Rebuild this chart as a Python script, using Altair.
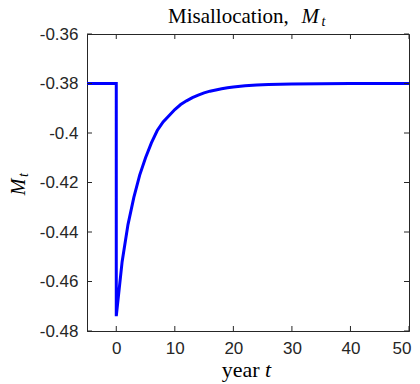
import altair as alt
import pandas as pd

# ---- data ----
pre_t = [-5, -4, -3, -2, -1, 0]
pre_v = [-0.38, -0.38, -0.38, -0.38, -0.38, -0.38]
post_t = [0, 1, 2, 3, 4, 5, 6, 7, 8, 9, 10, 11, 12, 13, 14, 15, 16, 17, 18, 19, 20,
          22, 24, 26, 28, 30, 35, 40, 45, 50]
post_v = [-0.474, -0.452, -0.437, -0.426, -0.417, -0.410, -0.404, -0.399, -0.3955, -0.393,
          -0.3905, -0.3885, -0.387, -0.3857, -0.3847, -0.3838, -0.3831, -0.3826, -0.3821,
          -0.3817, -0.3814, -0.3809, -0.3806, -0.3804, -0.3803, -0.3802, -0.3801, -0.3800,
          -0.3800, -0.3800]
x_ticks = [0, 10, 20, 30, 40, 50]
y_ticks = [-0.48, -0.46, -0.44, -0.42, -0.40, -0.38, -0.36]

W, H = 322, 297
DARK = "#262626"

ts = pre_t + post_t
vs = pre_v + post_v
line_df = pd.DataFrame({"t": ts, "v": vs, "o": list(range(len(ts)))})
xt_df = pd.DataFrame({"t": x_ticks})
yt_df = pd.DataFrame({"v": y_ticks})

xscale = alt.Scale(domain=[-5, 50], nice=False, zero=False)
yscale = alt.Scale(domain=[-0.48, -0.36], nice=False, zero=False)

x_axis = alt.Axis(values=x_ticks, ticks=False, grid=False, labelPadding=9,
                  labelFont="Liberation Sans", labelFontSize=17, labelColor=DARK,
                  domainColor=DARK, title=None, labelFlush=False,
                  labelAlign={"condition": {"test": "datum.value == 50", "value": "right"},
                              "value": "center"},
                  labelOffset={"condition": {"test": "datum.value == 50", "value": 2},
                               "value": 0})
y_axis = alt.Axis(values=y_ticks, ticks=False, grid=False, labelPadding=9,
                  labelFont="Liberation Sans", labelFontSize=17, labelColor=DARK,
                  domainColor=DARK, title=None, labelFlush=False,
                  labelExpr="datum.value < 0 ? '-' + format(-datum.value, '.2~f') : format(datum.value, '.2~f')")

line = alt.Chart(line_df).mark_line(color="#0000FF", strokeWidth=3, clip=True).encode(
    x=alt.X("t:Q", scale=xscale, axis=x_axis),
    y=alt.Y("v:Q", scale=yscale, axis=y_axis),
    order="o:Q",
)

tick_len = 5
bt = alt.Chart(xt_df).mark_rule(color=DARK, strokeWidth=1).encode(
    x=alt.X("t:Q", scale=xscale), y=alt.value(H), y2=alt.value(H - tick_len))
tt = alt.Chart(xt_df).mark_rule(color=DARK, strokeWidth=1).encode(
    x=alt.X("t:Q", scale=xscale), y=alt.value(0), y2=alt.value(tick_len))
lt = alt.Chart(yt_df).mark_rule(color=DARK, strokeWidth=1).encode(
    y=alt.Y("v:Q", scale=yscale), x=alt.value(0), x2=alt.value(tick_len))
rt = alt.Chart(yt_df).mark_rule(color=DARK, strokeWidth=1).encode(
    y=alt.Y("v:Q", scale=yscale), x=alt.value(W), x2=alt.value(W - tick_len))

def txt(s, x, y, size, italic=False, angle=0, align="left", color="#000000"):
    kw = dict(text=s, font="Liberation Serif", fontSize=size, align=align,
              baseline="alphabetic", color=color, angle=angle)
    if italic:
        kw["fontStyle"] = "italic"
    return alt.Chart(pd.DataFrame({"a": [0]})).mark_text(**kw).encode(
        x=alt.value(x), y=alt.value(y))

labels = [
    txt("Misallocation,", 81, -10.7, 21),
    txt("M", 214.5, -10.7, 21, italic=True),
    txt("t", 234.5, -8, 14, italic=True),
    txt("year", 134.7, 343, 22),
    txt("t", 178, 343, 22, italic=True),
    txt("M", -62, 153, 20, italic=True, angle=270, align="center"),
    txt("t", -59, 143, 14, italic=True, angle=270, align="left"),
]

chart = alt.layer(line, bt, tt, lt, rt, *labels).properties(
    width=W, height=H,
    autosize=alt.AutoSizeParams(type="none"),
    padding={"left": 79, "top": 26, "right": 3, "bottom": 52},
).configure_view(stroke=DARK, strokeWidth=1)

chart.save("out.html", embed_options={"renderer": "svg", "actions": False})
